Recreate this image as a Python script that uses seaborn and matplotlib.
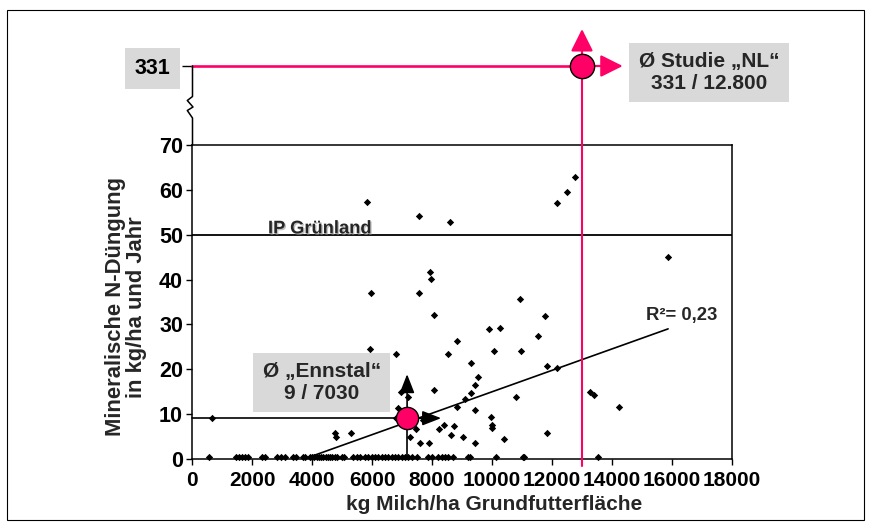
import numpy as np
import pandas as pd
import matplotlib
matplotlib.use("Agg")
import matplotlib.pyplot as plt
import seaborn as sns
from matplotlib.lines import Line2D
from matplotlib.patches import Rectangle
import matplotlib.patheffects as pe

# ---------------- data ----------------
zero_x = [568, 1480, 1570, 1660, 1760, 1860, 2320, 2440, 2840, 2960, 3100, 3380, 3470,
          3690, 3770, 3930, 4000, 4080, 4150, 4230, 4300, 4380, 4450, 4530, 4600, 4680,
          4750, 4820, 4990, 5070, 5380, 5490, 5600, 5770, 5880, 5990, 6100, 6210, 6320,
          6430, 6540, 6660, 6770, 6880, 6990, 7100, 7210, 7320, 7490, 7880, 7990, 8210,
          8320, 8430, 8540, 8710, 9210, 9270, 10130, 11020, 11080, 13530]
zero_y = [0.5] * len(zero_x)

pts_x = [5833, 7550, 8600, 12150, 12500, 12770, 15870,
         7930, 7950, 5960, 7570, 8080, 10930, 11770, 9890, 10270, 11520, 8820,
         5940, 6800, 8540, 10080, 10970, 9310, 11830, 12180, 9530, 9420, 9310,
         8060, 6980, 7200, 9110, 10800, 8840, 9430, 6860, 6790, 9970, 10000, 10010,
         7690, 7470, 8390, 8220, 8740, 8630, 9040, 10390, 11820, 7270, 7600, 7910,
         9440, 13270, 13400, 14240, 680, 4770, 4790, 5310]
pts_y = [57.3, 54.1, 52.8, 57.1, 59.5, 62.9, 45.0,
         41.7, 40.1, 37.0, 37.0, 32.1, 35.7, 31.8, 28.9, 29.1, 27.4, 26.4,
         24.6, 23.4, 23.3, 24.0, 24.1, 21.4, 20.7, 20.3, 18.3, 16.5, 14.7,
         15.4, 14.9, 13.9, 13.4, 13.9, 11.7, 10.9, 11.3, 9.1, 9.4, 7.6, 6.9,
         8.7, 6.6, 7.5, 6.6, 7.4, 5.3, 5.0, 4.5, 5.8, 5.0, 3.5, 3.5,
         3.5, 14.9, 14.3, 11.7, 9.1, 5.9, 4.8, 5.7]

trend_slope = 0.00239
trend_intercept = -8.92
r2_label = "R²= 0,23"

ip_level = 50
ip_label = "IP Grünland"

ennstal_x, ennstal_y = 7170, 9.1
ennstal_label = "Ø „Ennstal“\n9 / 7030"

nl_x, nl_y = 13000, 331
nl_label = "Ø Studie „NL“\n331 / 12.800"

x_ticks = [0, 2000, 4000, 6000, 8000, 10000, 12000, 14000, 16000, 18000]
y_ticks = [0, 10, 20, 30, 40, 50, 60, 70]
x_title = "kg Milch/ha Grundfutterfläche"
y_title = "Mineralische N-Düngung\nin kg/ha und Jahr"

# ---------------- style ----------------
sns.set_theme(style="white")
plt.rcParams['font.family'] = ['Liberation Sans', 'DejaVu Sans']
plt.rcParams['font.weight'] = 'bold'

PINK = '#FF0066'
GREY = '#D9D9D9'
W, H = 872, 528

fig = plt.figure(figsize=(W / 100, H / 100), dpi=100)


def box(x0, y0, x1, y1):
    return [x0 / W, 1 - y1 / H, (x1 - x0) / W, (y1 - y0) / H]


ax = fig.add_axes(box(192, 145, 732, 459))
ax_up = fig.add_axes(box(192, 40, 732, 145))

df = pd.DataFrame({'x': zero_x + pts_x, 'y': zero_y + pts_y})
sns.scatterplot(data=df, x='x', y='y', marker='D', s=14, color='black',
                edgecolor='black', linewidth=0, ax=ax, clip_on=False, zorder=3)

# trend line over the data range, clipped at the axis
xs = np.array([df['x'].min(), df['x'].max()])
ax.plot(xs, trend_intercept + trend_slope * xs, color='black', lw=1.2, zorder=2)
ax.text(15130, 31.0, r2_label, fontsize=13.3, fontweight='bold', va='baseline', ha='left')

# IP Grünland line
ax.axhline(ip_level, color='black', lw=1.3, zorder=2)
ax.text(2533, ip_level + 0.3, ip_label, fontsize=13.2, fontweight='bold', va='baseline',
        ha='left', path_effects=[pe.withSimplePatchShadow(offset=(1, -1),
                                                        shadow_rgbFace='#999999', alpha=0.6)])

ax.set_xlim(0, 18000)
ax.set_ylim(0, 70)
ax.set_xticks(x_ticks)
ax.set_xticklabels([str(t) for t in x_ticks], fontsize=15, fontweight='bold')
ax.set_yticks(y_ticks)
ax.set_yticklabels([str(t) for t in y_ticks], fontsize=15.5, fontweight='bold')
ax.tick_params(axis='both', direction='out', length=4, width=1, colors='black',
               bottom=True, left=True)
ax.tick_params(axis='y', pad=2.5)
ax.tick_params(axis='x', pad=5)
for s in ax.spines.values():
    s.set_color('black')
    s.set_linewidth(1.1)
ax.set_xlabel(x_title, fontsize=15, fontweight='bold')
ax.set_ylabel(y_title, fontsize=15.8, fontweight='bold', linespacing=1.0)
ax.xaxis.set_label_coords(0.559, -0.115)
ax.yaxis.set_label_coords(-0.083, 0.485)

# Ennstal average marker with guide lines and arrows
ax.plot([0, ennstal_x], [ennstal_y, ennstal_y], color='black', lw=1.2, zorder=4, clip_on=False)
ax.plot([ennstal_x, ennstal_x], [0, ennstal_y], color='black', lw=1.2, zorder=4)
ax.annotate('', xy=(ennstal_x, ennstal_y), xytext=(0, 31.7), textcoords='offset points',
            arrowprops=dict(arrowstyle='<|-,head_length=0.82,head_width=0.32', color='black',
                            lw=1.2, shrinkA=0, shrinkB=0, mutation_scale=14), zorder=4)
ax.annotate('', xy=(ennstal_x, ennstal_y), xytext=(24.5, 0), textcoords='offset points',
            arrowprops=dict(arrowstyle='<|-,head_length=0.82,head_width=0.32', color='black',
                            lw=1.2, shrinkA=0, shrinkB=0, mutation_scale=14), zorder=4)
ax.plot([ennstal_x], [ennstal_y], 'o', ms=16, mfc=PINK, mec='black', mew=1, zorder=6)
ax.annotate(ennstal_label, xy=(ennstal_x, ennstal_y), xytext=(-61.5, 25.6),
            textcoords='offset points', ha='center', va='center', fontsize=15,
            fontweight='bold', linespacing=1.2, zorder=5,
            bbox=dict(boxstyle='square,pad=0.45', facecolor=GREY, edgecolor='none'))

# pink vertical line through main axes
ax.axvline(nl_x, ymin=-0.022, ymax=1, color=PINK, lw=1.5, clip_on=False, zorder=4)

# ---------------- upper (broken) section ----------------
frac = (145 - 66) / (145 - 40)
lo = 300
hi = lo + (nl_y - lo) / frac
ax_up.set_xlim(0, 18000)
ax_up.set_ylim(lo, hi)
ax_up.patch.set_visible(False)
for s in ax_up.spines.values():
    s.set_visible(False)
ax_up.set_xticks([])
ax_up.set_yticks([nl_y])
ax_up.set_yticklabels([str(nl_y)], fontsize=15.5, fontweight='bold')
ax_up.tick_params(axis='y', direction='out', length=7, width=1, colors='black', pad=8.5, left=True)
for lab in ax_up.get_yticklabels():
    lab.set_bbox(dict(boxstyle='square,pad=0.45', facecolor=GREY, edgecolor='none'))

ax_up.plot([0, nl_x], [nl_y, nl_y], color=PINK, lw=1.9, zorder=3, clip_on=False)
ax_up.plot([nl_x, nl_x], [lo, nl_y], color=PINK, lw=1.5, zorder=3, clip_on=False)
ax_up.annotate('', xy=(nl_x, nl_y), xytext=(0, 26.6), textcoords='offset points',
               arrowprops=dict(arrowstyle='<|-,head_length=0.68,head_width=0.34', color=PINK,
                               lw=1.6, shrinkA=0, shrinkB=0, mutation_scale=20), zorder=4)
ax_up.annotate('', xy=(nl_x, nl_y), xytext=(29.3, 0), textcoords='offset points',
               arrowprops=dict(arrowstyle='<|-,head_length=0.68,head_width=0.34', color=PINK,
                               lw=1.6, shrinkA=0, shrinkB=0, mutation_scale=20), zorder=4)
ax_up.plot([nl_x], [nl_y], 'o', ms=17.5, mfc=PINK, mec='black', mew=1, zorder=6, clip_on=False)
ax_up.annotate(nl_label, xy=(nl_x, nl_y), xytext=(91.4, -4.7), textcoords='offset points',
               ha='center', va='center', fontsize=15, fontweight='bold', linespacing=1.2,
               bbox=dict(boxstyle='square,pad=0.45', facecolor=GREY, edgecolor='none'))

# broken axis line with zigzag (decoration)
zz_x = [192.5, 192.5, 187.3, 193.0, 187.3, 192.5, 192.5]
zz_y = [66, 96.5, 100.5, 107, 110.5, 118, 145]
fig.add_artist(Line2D([v / W for v in zz_x], [1 - v / H for v in zz_y], color='black',
                      lw=1.1, transform=fig.transFigure))

# outer frame
fig.add_artist(Rectangle((7 / W, 1 - 520 / H), (864 - 7) / W, (520 - 10) / H, fill=False,
                         edgecolor='black', lw=0.8, transform=fig.transFigure))

fig.savefig('out.png', dpi=100)
